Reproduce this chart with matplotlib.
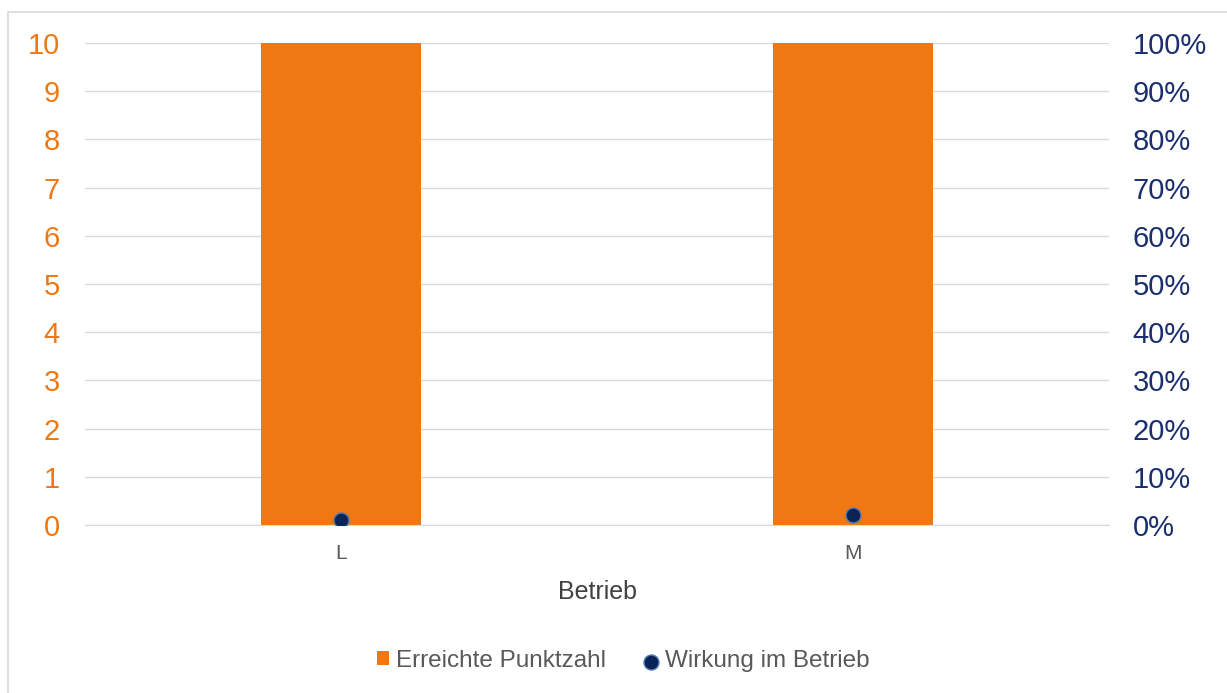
import matplotlib.pyplot as plt
from matplotlib.patches import Rectangle
from matplotlib.ticker import PercentFormatter

plt.rcParams['font.family'] = ['Liberation Sans', 'DejaVu Sans']

# Daten
betriebe = ['L', 'M']
punktzahl = [10, 10]
wirkung = [1, 2]  # in %

orange = '#F07812'
navy = '#1B2F6E'

W, H = 1227, 693
fig = plt.figure(figsize=(W / 100, H / 100), dpi=100)
# Rahmen (nur oben und links sichtbar)
fig.patches.append(Rectangle((8 / W, 1 - 12 / H - 1), 1.2, 1, transform=fig.transFigure,
                             fill=False, edgecolor='#D9D9D9', linewidth=1.2))

ax = fig.add_axes([85 / W, 1 - 525 / H, 1024 / W, 482 / H])
x = range(len(betriebe))
ax.bar(x, punktzahl, width=0.314, color=orange, zorder=2, label='Erreichte Punktzahl')
ax.set_xlim(-0.5, 1.5)
ax.set_ylim(0, 10)
ax.set_yticks(range(0, 11))
ax.grid(axis='y', color='#D9D9D9', linewidth=1, zorder=0)
for s in ['top', 'right', 'left']:
    ax.spines[s].set_visible(False)
ax.spines['bottom'].set_color('#D9D9D9')
ax.tick_params(axis='y', length=0, labelsize=21, labelcolor=orange, pad=18)
ax.tick_params(axis='x', length=0, labelsize=15, labelcolor='#595959', pad=14)
ax.set_xticks(list(x))
ax.set_xticklabels(betriebe)
fig.text(597 / W, 1 - 592 / H, 'Betrieb', fontsize=18, color='#404040',
         ha='center', va='center')

ax2 = ax.twinx()
ax2.scatter(x, wirkung, s=115, color='#0B2456', edgecolor='#4A78B8', linewidth=1,
            zorder=3, label='Wirkung im Betrieb')
ax2.set_ylim(0, 100)
ax2.set_yticks(range(0, 101, 10))
ax2.yaxis.set_major_formatter(PercentFormatter(decimals=0))
ax2.tick_params(axis='y', length=0, labelsize=21, labelcolor=navy, pad=17)
for s in ax2.spines.values():
    s.set_visible(False)

h1, l1 = ax.get_legend_handles_labels()
h2, l2 = ax2.get_legend_handles_labels()
fig.legend(h1 + h2, l1 + l2, loc='center', bbox_to_anchor=(623 / W, 1 - 661 / H),
           ncol=2, frameon=False, fontsize=17.5, labelcolor='#595959',
           handlelength=0.5, handleheight=0.5, handletextpad=0.3, columnspacing=1.6)

fig.savefig('out.png', dpi=100)
